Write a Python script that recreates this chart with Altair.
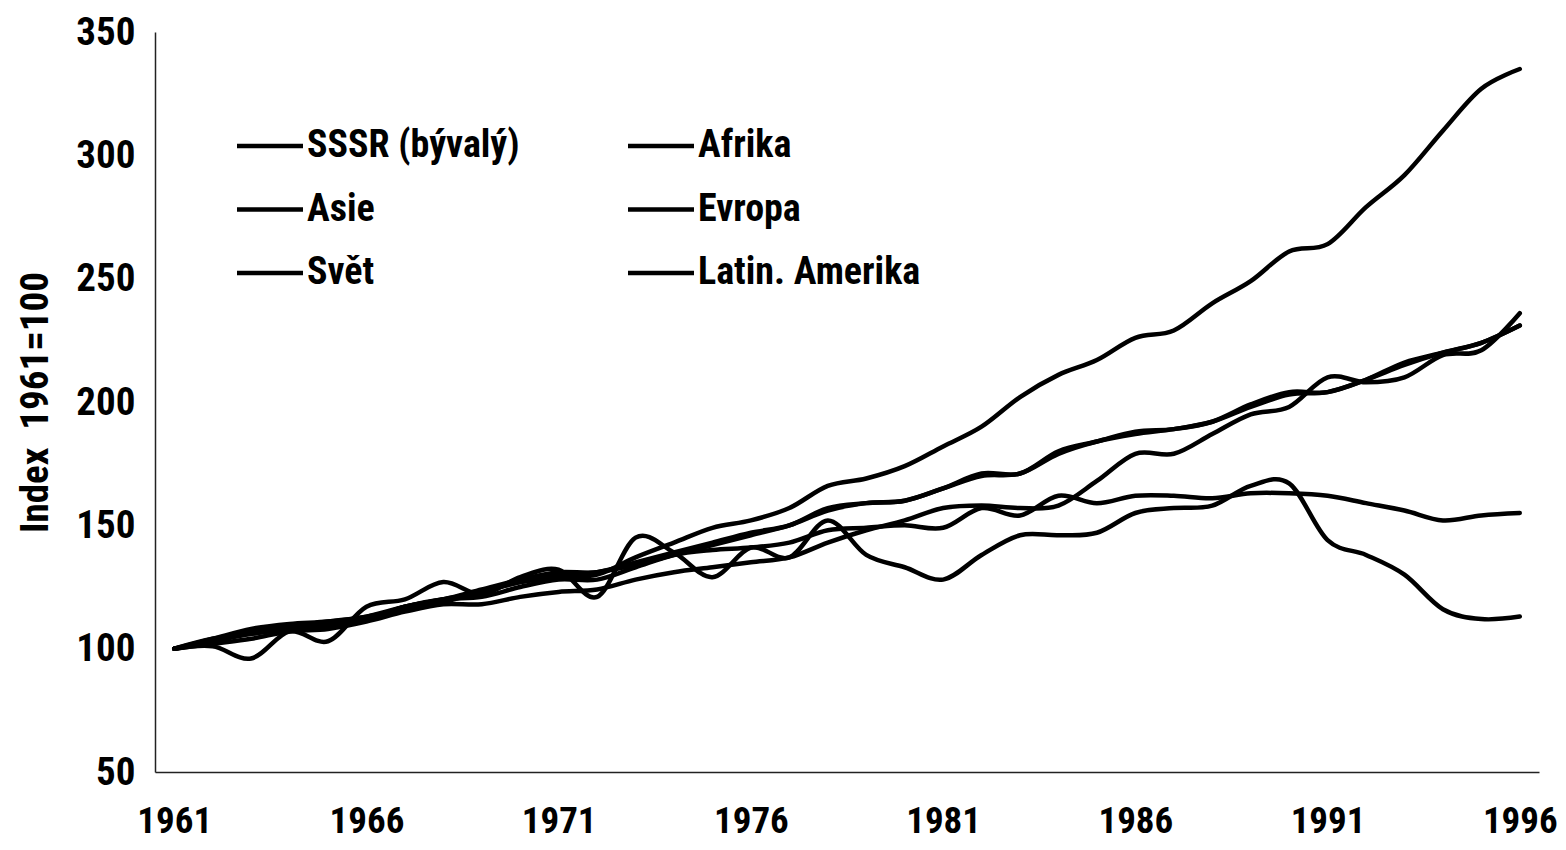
import altair as alt
import pandas as pd

years = list(range(1961, 1997))

sssr = [100, 101, 96, 107, 103, 117, 120, 127, 122, 129, 132, 121, 145, 139, 129, 141, 137, 152,
        138, 133, 128, 138, 146, 146, 147, 155, 157, 158, 166, 167, 144, 138, 130, 116, 112, 113]
afrika = [100, 103, 107, 109, 111, 113, 116, 119, 123, 127, 130, 131, 134, 138, 142, 146, 150, 156,
          159, 160, 165, 170, 171, 179, 184, 187, 189, 192, 198, 203, 204, 209, 215, 220, 224, 231]
asie = [100, 103, 106, 108, 110, 112, 117, 120, 123, 127, 129, 130, 137, 143, 149, 152, 157, 166,
        169, 174, 182, 190, 202, 211, 217, 226, 229, 240, 249, 261, 264, 279, 292, 310, 327, 335]
evropa = [100, 104, 106, 108, 109, 112, 117, 120, 121, 125, 128, 128, 133, 138, 140, 141, 143, 148,
          149, 150, 149, 157, 154, 162, 159, 162, 162, 161, 163, 163, 162, 159, 156, 152, 154, 155]
svet = [100, 104, 108, 110, 111, 113, 117, 120, 124, 128, 131, 131, 135, 139, 143, 147, 150, 157,
        159, 160, 165, 171, 171, 180, 184, 188, 189, 192, 199, 204, 204, 209, 216, 220, 224, 231]
latam = [100, 102, 104, 107, 108, 111, 115, 118, 118, 121, 123, 124, 128, 131, 133, 135, 137, 143,
         148, 152, 157, 158, 157, 158, 168, 179, 179, 187, 195, 198, 210, 208, 210, 219, 221, 236]

series_names = ["SSSR (bývalý)", "Afrika", "Asie", "Evropa", "Svět", "Latin. Amerika"]
series_values = [sssr, afrika, asie, evropa, svet, latam]
# legend is filled column by column: left column first, then right column
legend_order = ["SSSR (bývalý)", "Asie", "Svět", "Afrika", "Evropa", "Latin. Amerika"]

x_ticks = [1961, 1966, 1971, 1976, 1981, 1986, 1991, 1996]
y_ticks = [50, 100, 150, 200, 250, 300, 350]

rows = []
for name, vals in zip(series_names, series_values):
    for yr, v in zip(years, vals):
        rows.append({"rok": yr, "index": v, "region": name})
df = pd.DataFrame(rows)

FONT = "Roboto Condensed, Liberation Sans, Arial, sans-serif"

chart = (
    alt.Chart(df)
    .mark_line(interpolate="cardinal", strokeWidth=4.5, strokeCap="round", strokeJoin="round")
    .encode(
        x=alt.X(
            "rok:Q",
            scale=alt.Scale(domain=[1960.5, 1996.5], nice=False, zero=False),
            axis=alt.Axis(
                values=x_ticks, title=None, format="d", ticks=False, grid=False,
                domainColor="#222222", domainWidth=1.5,
                labelFont=FONT, labelFontSize=37, labelFontWeight="bold", labelColor="black",
                labelPadding=31, labelFlush=False, labelOverlap=False,
            ),
        ),
        y=alt.Y(
            "index:Q",
            scale=alt.Scale(domain=[50, 350], nice=False, zero=False),
            axis=alt.Axis(
                values=y_ticks, title="Index\u00a0 1961=100", ticks=False, grid=False,
                domainColor="#222222", domainWidth=1.5,
                labelFont=FONT, labelFontSize=39, labelFontWeight="bold", labelColor="black",
                labelPadding=20, labelOverlap=False,
                titleFont=FONT, titleFontSize=39, titleFontWeight="bold", titleColor="black",
                titleX=-120, titleY=370, titleAngle=270, titleAlign="center", titleBaseline="middle",
            ),
        ),
        color=alt.Color(
            "region:N",
            sort=legend_order,
            scale=alt.Scale(domain=legend_order, range=["#000000"] * len(legend_order)),
            legend=alt.Legend(
                title=None, orient="none", legendX=96, legendY=95, columns=2,
                padding=0, symbolType="M-2,0H2", symbolSize=1089, symbolStrokeWidth=4.5,
                symbolStrokeColor="black", symbolFillColor="transparent",
                labelFont=FONT, labelFontSize=38, labelFontWeight="bold", labelColor="black",
                labelOffset=18, rowPadding=25.5, columnPadding=99, labelLimit=0,
            ),
        ),
    )
    .properties(
        width=1384, height=740,
        padding={"left": 147, "top": 24, "right": 19, "bottom": 70},
        autosize=alt.AutoSizeParams(type="none"),
    )
    .configure_view(stroke=None)
)

chart.save("out.html", embed_options={"renderer": "svg", "actions": False})
